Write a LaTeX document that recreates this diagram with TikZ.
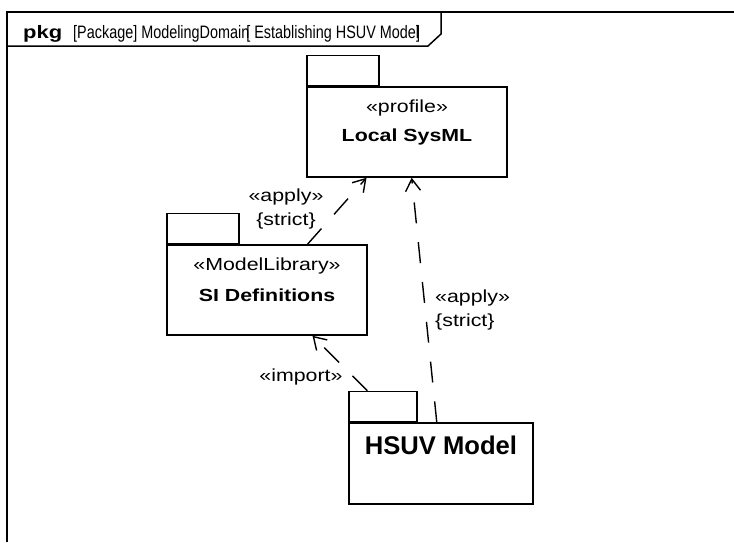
\documentclass[tikz,border=0pt]{standalone}
\usepackage{fontspec}
\setmainfont{Liberation Sans}
\newfontfamily\widesans{Liberation Sans}[FakeStretch=1.22]
\newfontfamily\narrowsans{Liberation Sans}[FakeStretch=0.8]
\usepackage{tikz}
\usetikzlibrary{arrows.meta, positioning}

\begin{document}
\begin{tikzpicture}[x=1pt, y=-1pt,
        pkgbody/.style={draw, line width=1.5pt, inner sep=0pt},
        pkgtab/.style={draw, line width=1.5pt, inner sep=0pt, minimum height=30pt,
                       anchor=south west},
        stereo/.style={font=\widesans\fontsize{17.5}{24}\selectfont, inner sep=0pt},
        pkgname/.style={font=\widesans\bfseries\fontsize{17.5}{21}\selectfont, inner sep=0pt},
        dep/.style={line width=1.4pt, dash pattern=on 21pt off 19pt,
                    -{Straight Barb[length=12pt, width=15pt]}}]
        \useasboundingbox (0,0) rectangle (734,542);
        % frame and heading
        \draw[line width=1.5pt] (734,12) -- (7,12) -- (7,542);
        \draw[line width=1.5pt] (7,46) -- (428,46) -- (441,34) -- (441,12);
        \node[anchor=base west, inner sep=0pt, font=\fontsize{18}{21}\selectfont] (hdr) at (23,38)
          {{\widesans\bfseries pkg}\hspace{11pt}{\narrowsans [Package] ModelingDomain\kern-3pt[ Establishing HSUV Model\kern-3pt]}};
        % packages
        \node[pkgbody, minimum width=200pt, minimum height=90pt] (lsys) at (407,132) {};
        \node[pkgtab, minimum width=72pt] (lsystab) at (lsys.north west) {};
        \node[stereo] (lsysst) at (407,108) {«profile»};
        \node[pkgname] (lsysname) at (407,137) {Local SysML};
        \node[pkgbody, minimum width=200pt, minimum height=90pt] (sidef) at (267,290) {};
        \node[pkgtab, minimum width=72pt] (sideftab) at (sidef.north west) {};
        \node[stereo] (sidefst) at (267,266) {«ModelLibrary»};
        \node[pkgname] (sidefname) at (267,295) {SI Definitions};
        \node[pkgbody, minimum width=184pt, minimum height=81pt] (hsuv) at (441,463.5) {};
        \node[pkgtab, minimum width=68pt] (hsuvtab) at (hsuv.north west) {};
        \node[inner sep=0pt, font=\bfseries\fontsize{25.6}{30}\selectfont] (hsuvname) at (441,445) {HSUV Model};
        % dependencies
        \draw[dep] (sidef) -- (lsys);
        \draw[dep] (hsuv) -- (lsys);
        \draw[dep] (hsuvtab) -- (sidef);
        \node[stereo, align=center] (ap1) at (286,209) {«apply»\\\{strict\}};
        \node[stereo, align=left, anchor=west] (ap2) at (435,310) {«apply»\\\{strict\}};
        \node[stereo] (imp) at (301,377) {«import»};
      \end{tikzpicture}
\end{document}
